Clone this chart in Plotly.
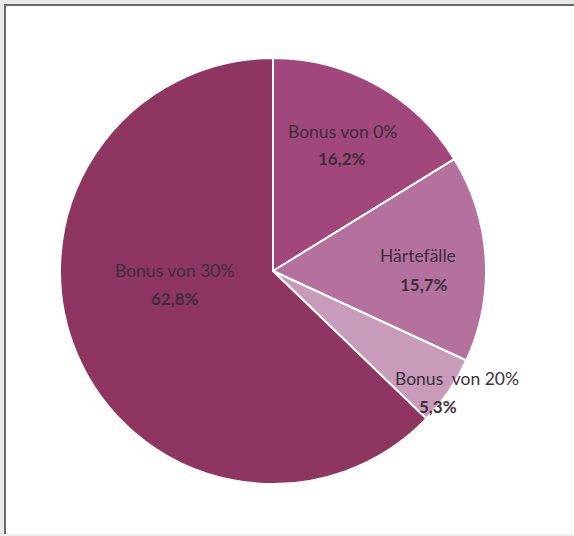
import plotly.graph_objects as go

labels = ["Bonus von 0%", "Härtefälle", "Bonus  von 20%", "Bonus von 30%"]
values = [16.2, 15.7, 5.3, 62.8]
pct_text = ["16,2%", "15,7%", "5,3%", "62,8%"]
colors = ["#a2477c", "#b5719d", "#c99bbb", "#8e3562"]

W, H = 574, 536
cx, cy, r = 273, 271, 213

# label anchor positions in pixels (name line, percent line)
label_pos = [(342, 131, 342, 158), (418, 255, 424, 284), (457, 378, 438, 406), (175, 270, 175, 298)]

fig = go.Figure(go.Pie(
    labels=labels, values=values, sort=False, direction="clockwise", rotation=0,
    marker=dict(colors=colors, line=dict(color="white", width=2)),
    textinfo="none", hoverinfo="label+percent", showlegend=False,
    domain=dict(x=[(cx - r) / W, (cx + r) / W], y=[1 - (cy + r) / H, 1 - (cy - r) / H]),
))

ann = []
for lab, pt, (x1, y1, x2, y2) in zip(labels, pct_text, label_pos):
    ann.append(dict(x=x1 / W, y=1 - y1 / H, xref="paper", yref="paper", text=lab, showarrow=False,
                    font=dict(family="Lato", size=17.5, color="#3d2f3d"), xanchor="center", yanchor="middle"))
    ann.append(dict(x=x2 / W, y=1 - y2 / H, xref="paper", yref="paper", text="<b>" + pt + "</b>", showarrow=False,
                    font=dict(family="Lato", size=17, color="#3d2f3d"), xanchor="center", yanchor="middle"))

fig.update_layout(
    width=W, height=H, margin=dict(l=0, r=0, t=0, b=0),
    paper_bgcolor="#e8e8e8", plot_bgcolor="white",
    annotations=ann,
    shapes=[
        dict(type="rect", xref="paper", yref="paper", x0=4 / W, x1=1.01, y0=2 / H, y1=1 - 4 / H,
             fillcolor="white", line=dict(width=0), layer="below"),
        dict(type="rect", xref="paper", yref="paper", x0=0, x1=1.01, y0=0, y1=2 / H,
             fillcolor="#eef0f0", line=dict(width=0), layer="below"),
        dict(type="line", xref="paper", yref="paper", x0=5 / W, x1=5 / W, y0=2 / H, y1=1 - 4 / H,
             line=dict(color="#6a6a6a", width=2), layer="below"),
        dict(type="line", xref="paper", yref="paper", x0=4 / W, x1=1.01, y0=1 - 5 / H, y1=1 - 5 / H,
             line=dict(color="#6a6a6a", width=2), layer="below"),
    ],
)
fig.write_html("out.html")
